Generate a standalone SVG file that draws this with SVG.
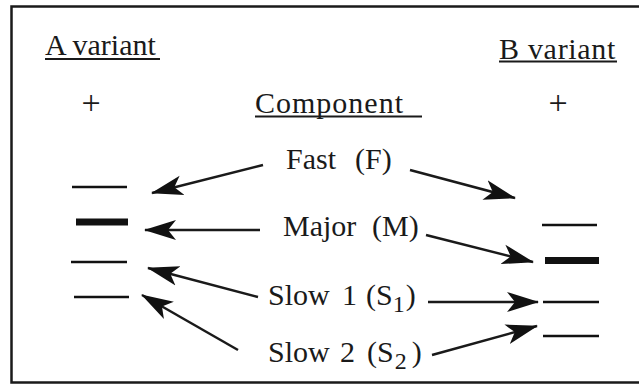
<svg xmlns="http://www.w3.org/2000/svg" width="639" height="387" viewBox="0 0 639 387">
  <style>
    .t { font-family: 'Liberation Serif', 'DejaVu Serif', serif; font-size: 30px; fill: #1a1a1a; }
    .sub { font-size: 24px; }
    .plus { font-size: 34px; }
    .rule { stroke: #1a1a1a; stroke-width: 2; fill: none; }
    .band { stroke: #111; stroke-width: 2.5; }
    .band.major { stroke-width: 7; }
    .arrow { stroke: #1a1a1a; stroke-width: 2.5; fill: none; marker-end: url(#head); }
  </style>
  <defs>
    <marker id="head" markerUnits="userSpaceOnUse" viewBox="0 0 32 22" markerWidth="32" markerHeight="22" refX="31" refY="11" orient="auto">
      <path d="M32,11 L0,1 L8,11 L0,21 Z" fill="#111"/>
    </marker>
  </defs>

  <rect width="639" height="387" fill="#fff"/>
  <!-- frame (right edge runs past the canvas) -->
  <path d="M645,6.5 H11.5 V382.5 H645" fill="none" stroke="#1a1a1a" stroke-width="2.5"/>

  <g class="t" font-family="Liberation Serif, DejaVu Serif, serif">
    <!-- column headings -->
    <g id="heading-a">
      <text x="45" y="55">A variant</text>
      <line class="rule" x1="45" y1="59" x2="160" y2="59"/>
      <text class="plus" x="91" y="114" text-anchor="middle">+</text>
    </g>
    <g id="heading-component">
      <text x="255" y="113" letter-spacing="1">Component</text>
      <line class="rule" x1="255" y1="116.5" x2="422" y2="116.5"/>
    </g>
    <g id="heading-b">
      <text x="499" y="58.5" letter-spacing="0.7">B variant</text>
      <line class="rule" x1="499" y1="61.5" x2="617" y2="61.5"/>
      <text class="plus" x="558" y="114" text-anchor="middle">+</text>
    </g>

    <!-- component labels -->
    <g id="fast">
      <text y="169"><tspan x="286">Fast</tspan><tspan x="355">(F)</tspan></text>
    </g>
    <g id="major">
      <text y="236"><tspan x="283">Major</tspan><tspan x="372">(M)</tspan></text>
    </g>
    <g id="slow1">
      <text y="305"><tspan x="268">Slow</tspan><tspan x="342">1</tspan><tspan x="366">(S</tspan><tspan class="sub" dy="7">1</tspan><tspan dx="1" dy="-7">)</tspan></text>
    </g>
    <g id="slow2">
      <text y="362"><tspan x="268">Slow</tspan><tspan x="340">2</tspan><tspan x="367">(S</tspan><tspan class="sub" dx="1" dy="7">2</tspan><tspan dx="5" dy="-7">)</tspan></text>
    </g>
  </g>

  <!-- A variant bands -->
  <g id="bands-a">
    <line class="band" x1="72" y1="187" x2="127" y2="187"/>
    <line class="band major" x1="76" y1="222" x2="128" y2="222"/>
    <line class="band" x1="71" y1="262" x2="127" y2="262"/>
    <line class="band" x1="74" y1="297" x2="129" y2="297"/>
  </g>

  <!-- B variant bands -->
  <g id="bands-b">
    <line class="band" x1="542" y1="225" x2="597" y2="225"/>
    <line class="band major" x1="545" y1="260.5" x2="599" y2="260.5"/>
    <line class="band" x1="543" y1="302" x2="599" y2="302"/>
    <line class="band" x1="543" y1="336" x2="599" y2="336"/>
  </g>

  <!-- connectors -->
  <g id="connectors">
    <line class="arrow" x1="263" y1="165" x2="152" y2="193"/>
    <line class="arrow" x1="410" y1="170" x2="515" y2="198"/>
    <line class="arrow" x1="260" y1="230" x2="145" y2="230"/>
    <line class="arrow" x1="426" y1="235" x2="533" y2="262"/>
    <line class="arrow" x1="258" y1="297" x2="148" y2="268"/>
    <line class="arrow" x1="428" y1="302" x2="538" y2="302"/>
    <line class="arrow" x1="238" y1="350" x2="142" y2="295"/>
    <line class="arrow" x1="432" y1="355" x2="537" y2="326"/>
  </g>
</svg>
